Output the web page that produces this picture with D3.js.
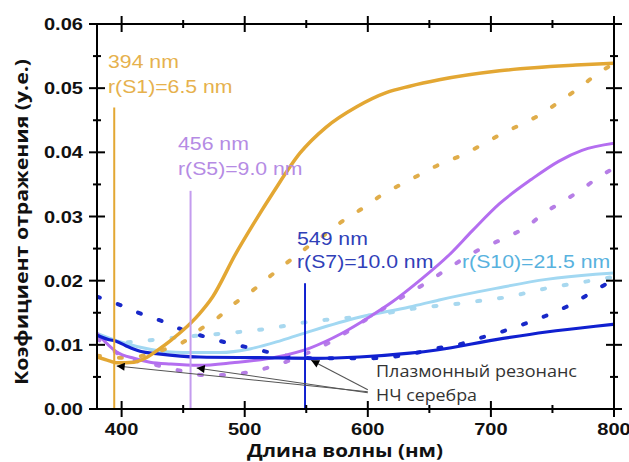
<!DOCTYPE html>
<html><head><meta charset="utf-8">
<script src="https://cdn.jsdelivr.net/npm/d3@7"></script>
<style>body{margin:0;background:#fff;}</style>
</head><body>
<svg id="c" width="629" height="462"></svg>
<script>
// ---- data ----
const xTickValues = [400, 500, 600, 700, 800];
const xMinorTicks = [450, 550, 650, 750];
const yTickValues = [0, 0.01, 0.02, 0.03, 0.04, 0.05, 0.06];
const yTickLabels = ["0.00", "0.01", "0.02", "0.03", "0.04", "0.05", "0.06"];
const yMinorTicks = [0.005, 0.015, 0.025, 0.035, 0.045, 0.055];

const s1SolidWl = [380, 390, 396, 410, 420, 431, 440, 450, 463, 474, 493, 506, 523, 545, 566, 591, 615, 634, 658, 707, 769, 800];
const s1SolidR  = [0.0081, 0.0075, 0.0072, 0.0073, 0.0080, 0.0094, 0.0107, 0.0123, 0.0148, 0.0175, 0.0243, 0.0285, 0.0337, 0.0399, 0.0439, 0.0471, 0.0493, 0.0503, 0.0513, 0.0527, 0.0536, 0.0539];
const s1DotWl = [380, 400, 420, 435, 449, 463, 478, 490, 504, 520, 535, 550, 566, 581, 596, 611, 626, 642, 658, 677, 692, 709, 725, 742, 757, 773, 786, 800];
const s1DotR  = [0.0083, 0.0080, 0.0084, 0.0093, 0.0103, 0.0123, 0.0142, 0.0162, 0.0181, 0.0206, 0.0229, 0.0251, 0.0273, 0.0295, 0.0313, 0.0333, 0.0349, 0.0365, 0.0381, 0.0396, 0.0411, 0.0429, 0.0444, 0.0461, 0.0481, 0.0502, 0.0522, 0.0538];

const s5SolidWl = [380, 396, 410, 423, 440, 463, 490, 526, 553, 579, 601, 620, 642, 666, 685, 707, 733, 755, 774, 800];
const s5SolidR  = [0.0118, 0.0089, 0.0079, 0.0073, 0.0070, 0.0068, 0.0072, 0.0081, 0.0095, 0.0118, 0.0143, 0.0167, 0.0200, 0.0240, 0.0278, 0.0320, 0.0358, 0.0386, 0.0403, 0.0414];
const s5DotWl = [380, 400, 429, 447, 466, 485, 502, 520, 553, 569, 604, 631, 647, 666, 690, 712, 729, 743, 758, 773, 788, 800];
const s5DotR  = [0.0110, 0.0083, 0.0068, 0.0060, 0.0053, 0.0053, 0.0057, 0.0065, 0.0089, 0.0104, 0.0146, 0.0178, 0.0196, 0.0220, 0.0248, 0.0267, 0.0284, 0.0305, 0.0323, 0.0341, 0.0362, 0.0375];

const s7SolidWl = [380, 390, 395, 403, 415, 430, 463, 512, 558, 593, 634, 656, 704, 745, 785, 800];
const s7SolidR  = [0.0115, 0.0108, 0.0106, 0.0099, 0.0090, 0.0086, 0.0081, 0.0080, 0.0079, 0.0081, 0.0087, 0.0092, 0.0108, 0.0120, 0.0129, 0.0132];
const s7DotWl = [380, 399, 415, 434, 450, 469, 486, 505, 523, 540, 560, 579, 599, 618, 636, 654, 673, 690, 708, 725, 743, 761, 776, 792, 800];
const s7DotR  = [0.0175, 0.0162, 0.0149, 0.0136, 0.0123, 0.0112, 0.0103, 0.0095, 0.0087, 0.0081, 0.0079, 0.0079, 0.0079, 0.0081, 0.0086, 0.0094, 0.0100, 0.0110, 0.0120, 0.0131, 0.0144, 0.0159, 0.0175, 0.0193, 0.0201];

const s10SolidWl = [380, 400, 423, 450, 480, 505, 530, 553, 593, 634, 658, 704, 745, 785, 800];
const s10SolidR  = [0.0118, 0.0104, 0.0093, 0.0088, 0.0088, 0.0094, 0.0107, 0.0121, 0.0143, 0.0159, 0.0170, 0.0188, 0.0202, 0.0210, 0.0212];
const s10DotWl = [405, 417, 437, 460, 490, 510, 528, 545, 566, 583, 604, 639, 677, 696, 715, 733, 750, 769, 800];
const s10DotR  = [0.0104, 0.0106, 0.0110, 0.0114, 0.0119, 0.0123, 0.0128, 0.0134, 0.0139, 0.0142, 0.0146, 0.0157, 0.0165, 0.0170, 0.0175, 0.0183, 0.0190, 0.0196, 0.0206];

const peakWl   = [394, 456, 549];
const peakTopR = [0.047, 0.034, 0.0196];
const arrowTipWl = [396, 461, 554];
const arrowTipR  = [0.0067, 0.0064, 0.0076];
const arrowTailWl = 600, arrowTailR = 0.0027;

// ---- style ----
const C = {
  gold: "#e3a733", goldDot: "#e0ad4a", goldText: "#e6b14d",
  purple: "#b46ef0", purpleDot: "#b67ee6", purpleText: "#b58be4", purpleMark: "#c49cee",
  blue: "#1020d0", blueDot: "#1828c8", blueText: "#3040b8",
  light: "#a2d8f2", lightDot: "#a8d8ef", lightText: "#58b2de"
};

const svg = d3.select("#c");
const x = d3.scaleLinear().domain([380, 800]).range([97, 614]);
const y = d3.scaleLinear().domain([0, 0.06]).range([409, 24]);

svg.append("defs").append("clipPath").attr("id", "clip")
  .append("rect").attr("x", 97).attr("y", 24).attr("width", 517).attr("height", 385);

const line = d3.line().x(d => x(d[0])).y(d => y(d[1])).curve(d3.curveMonotoneX);
const zip = (a, b) => a.map((v, i) => [v, b[i]]);
const plot = svg.append("g").attr("clip-path", "url(#clip)");

function solid(wl, r, col, w) {
  plot.append("path").datum(zip(wl, r)).attr("d", line)
    .attr("fill", "none").attr("stroke", col).attr("stroke-width", w)
    .attr("stroke-linejoin", "round");
}
function dotted(wl, r, col) {
  plot.append("path").datum(zip(wl, r)).attr("d", line)
    .attr("fill", "none").attr("stroke", col).attr("stroke-width", 4)
    .attr("stroke-linecap", "round").attr("stroke-dasharray", "3,19");
}

dotted(s10DotWl, s10DotR, C.lightDot);
solid(s10SolidWl, s10SolidR, C.light, 3);
dotted(s5DotWl, s5DotR, C.purpleDot);
dotted(s1DotWl, s1DotR, C.goldDot);
dotted(s7DotWl, s7DotR, C.blueDot);
solid(s5SolidWl, s5SolidR, C.purple, 3);
solid(s7SolidWl, s7SolidR, C.blue, 3.2);
solid(s1SolidWl, s1SolidR, C.gold, 3.5);

// vertical resonance markers
const markCols = [C.gold, C.purpleMark, C.blue];
peakWl.forEach((wl, i) => {
  svg.append("line").attr("x1", x(wl)).attr("x2", x(wl))
    .attr("y1", y(peakTopR[i])).attr("y2", y(0))
    .attr("stroke", markCols[i]).attr("stroke-width", 2);
});

// arrows
const defs = svg.select("defs");
defs.append("marker").attr("id", "ah").attr("viewBox", "0 0 10 10")
  .attr("refX", 10).attr("refY", 5).attr("markerWidth", 11).attr("markerHeight", 8)
  .attr("markerUnits", "userSpaceOnUse").attr("orient", "auto")
  .append("path").attr("d", "M0,0 L10,5 L0,10 Z").attr("fill", "#000");
arrowTipWl.forEach((wl, i) => {
  svg.append("line")
    .attr("x1", x(arrowTailWl)).attr("y1", y(arrowTailR) + (i === 2 ? -2 : i))
    .attr("x2", x(wl)).attr("y2", y(arrowTipR[i]))
    .attr("stroke", "#555").attr("stroke-width", 1.1)
    .attr("marker-end", "url(#ah)");
});

// axes (frame with crossing ticks)
const ax = svg.append("g").attr("stroke", "#000").attr("stroke-width", 2);
ax.append("rect").attr("x", 97).attr("y", 24).attr("width", 517).attr("height", 385)
  .attr("fill", "none");
function xt(v, len) {
  [409, 24].forEach(yy => ax.append("line").attr("x1", x(v)).attr("x2", x(v))
    .attr("y1", yy - len).attr("y2", yy + len));
}
function yt(v, len) {
  [97, 614].forEach(xx => ax.append("line").attr("y1", y(v)).attr("y2", y(v))
    .attr("x1", xx - len).attr("x2", xx + len));
}
xTickValues.forEach(v => xt(v, 8));
xMinorTicks.forEach(v => xt(v, 4));
yTickValues.forEach(v => yt(v, 8));
yMinorTicks.forEach(v => yt(v, 4));

function fit(sel, w) {
  sel.attr("textLength", w).attr("lengthAdjust", "spacingAndGlyphs");
  return sel;
}
const stretch = 1.18;
function stretchText(sel) {
  sel.each(function() {
    const n = this.getComputedTextLength();
    d3.select(this).attr("textLength", n * stretch).attr("lengthAdjust", "spacingAndGlyphs");
  });
  return sel;
}

// tick labels
yTickValues.forEach((v, i) => {
  stretchText(svg.append("text").attr("x", 83).attr("y", y(v) + 6)
    .attr("text-anchor", "end").attr("font-family", "Liberation Sans, Arial")
    .attr("font-weight", "bold").attr("font-size", 17).attr("fill", "#111")
    .text(yTickLabels[i]));
});
xTickValues.forEach(v => {
  stretchText(svg.append("text").attr("x", x(v)).attr("y", 435)
    .attr("text-anchor", "middle").attr("font-family", "Liberation Sans, Arial")
    .attr("font-weight", "bold").attr("font-size", 17).attr("fill", "#111")
    .text(v));
});

// axis titles
fit(svg.append("text").attr("x", 345).attr("y", 457).attr("text-anchor", "middle")
  .attr("font-family", "Open Sans, Noto Sans").attr("font-weight", "bold")
  .attr("font-size", 18).attr("fill", "#111").text("Длина волны (нм)"), 196);
fit(svg.append("text").attr("transform", "translate(28,222) rotate(-90)")
  .attr("text-anchor", "middle")
  .attr("font-family", "Open Sans, Noto Sans").attr("font-weight", "bold")
  .attr("font-size", 18).attr("fill", "#111").text("Коэфициент отражения (у.е.)"), 326);

// peak labels
function label(txt, xx, yy, col) {
  stretchText(svg.append("text").attr("x", xx).attr("y", yy)
    .attr("font-family", "Liberation Sans, Arial").attr("font-size", 18)
    .attr("fill", col).text(txt));
}
label("394 nm", 108, 68, C.goldText);
label("r(S1)=6.5 nm", 108, 93, C.goldText);
label("456 nm", 178, 150, C.purpleText);
label("r(S5)=9.0 nm", 178, 175, C.purpleText);
label("549 nm", 297, 245, C.blueText);
label("r(S7)=10.0 nm", 297, 268, C.blueText);
label("r(S10)=21.5 nm", 462, 268, C.lightText);

// annotation text
fit(svg.append("text").attr("x", 376).attr("y", 377)
  .attr("font-family", "Open Sans, Noto Sans").attr("font-size", 16).attr("fill", "#333")
  .text("Плазмонный резонанс"), 201);
fit(svg.append("text").attr("x", 376).attr("y", 401)
  .attr("font-family", "Open Sans, Noto Sans").attr("font-size", 16).attr("fill", "#333")
  .text("НЧ серебра"), 101);
</script>
</body></html>
